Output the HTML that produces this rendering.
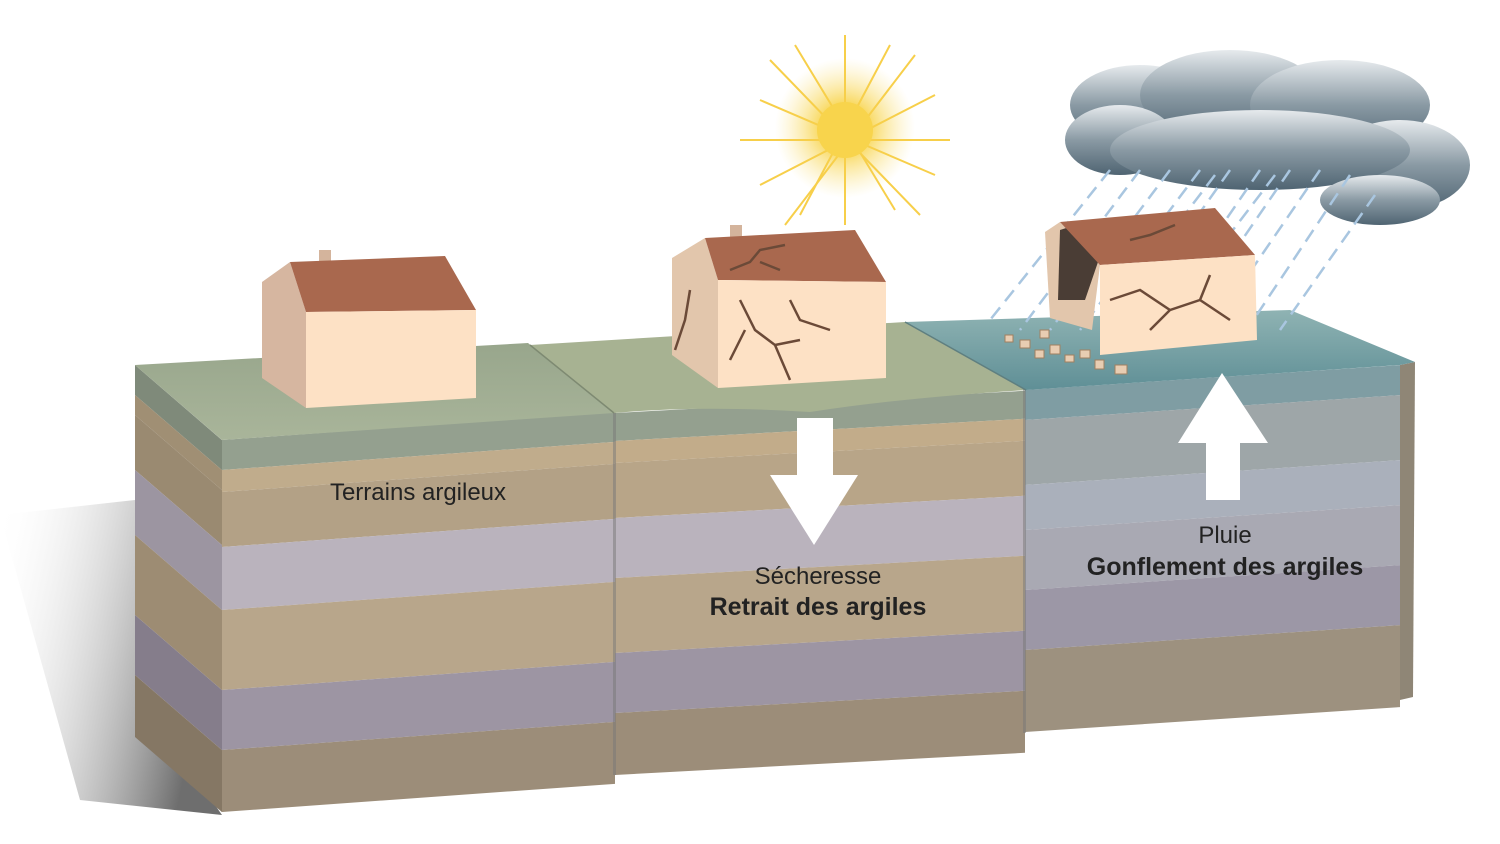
<!DOCTYPE html>
<html><head><meta charset="utf-8"><style>
html,body{margin:0;padding:0;background:#fff;width:1500px;height:844px;overflow:hidden}
svg{display:block}
text{font-family:"Liberation Sans",sans-serif;fill:#222}
</style></head><body>
<svg width="1500" height="844" viewBox="0 0 1500 844" xmlns="http://www.w3.org/2000/svg">
<defs>
<linearGradient id="sh" x1="0" y1="0" x2="1" y2="0.3">
<stop offset="0" stop-color="#fff" stop-opacity="0"/><stop offset="1" stop-color="#555" stop-opacity="0.85"/></linearGradient>
<radialGradient id="sun" cx="0.5" cy="0.5" r="0.5"><stop offset="0.3" stop-color="#f8d44c"/><stop offset="1" stop-color="#fbe9a0" stop-opacity="0"/></radialGradient>
<linearGradient id="cl" x1="0" y1="0" x2="0" y2="1"><stop offset="0" stop-color="#e6eaed"/><stop offset="0.5" stop-color="#8a9aa4"/><stop offset="1" stop-color="#4f6472"/></linearGradient>
<linearGradient id="t3" x1="0" y1="0" x2="0" y2="1"><stop offset="0" stop-color="#8fb3b3"/><stop offset="1" stop-color="#5f8f96"/></linearGradient>
<linearGradient id="t1" x1="0" y1="0" x2="0" y2="1"><stop offset="0" stop-color="#98a68c"/><stop offset="1" stop-color="#a9b59a"/></linearGradient>
</defs>
<!-- shadow -->
<polygon points="0,515 135,500 135,690 222,815 80,800" fill="url(#sh)"/>
<!-- Block 1 side -->
<g transform="translate(135,365) skewY(40.8)">
<rect x="0" y="0" width="87" height="30" fill="#7f8a7a"/><rect x="0" y="30" width="87" height="20" fill="#a08f74"/>
<rect x="0" y="50" width="87" height="55" fill="#9a8a71"/><rect x="0" y="105" width="87" height="65" fill="#9c95a1"/>
<rect x="0" y="170" width="87" height="80" fill="#9d8c73"/><rect x="0" y="250" width="87" height="60" fill="#857d8b"/>
<rect x="0" y="310" width="87" height="62" fill="#857764"/></g>
<!-- Block 1 front -->
<g transform="translate(222,440) skewY(-4.1)">
<rect x="0" y="0" width="393" height="30" fill="#94a08f"/><rect x="0" y="30" width="393" height="22" fill="#c0ac8c"/>
<rect x="0" y="52" width="393" height="55" fill="#b3a186"/><rect x="0" y="107" width="393" height="63" fill="#bab3bd"/>
<rect x="0" y="170" width="393" height="80" fill="#b8a68b"/><rect x="0" y="250" width="393" height="60" fill="#9d95a3"/>
<rect x="0" y="310" width="393" height="62" fill="#9c8d79"/></g>
<polygon points="135,365 528,343 614,413 222,440" fill="url(#t1)"/>
<!-- Block 2 front -->
<g transform="translate(615,413) skewY(-3.1)">
<rect x="0" y="0" width="410" height="28" fill="#94a08f"/><rect x="0" y="28" width="410" height="22" fill="#c2ac8a"/>
<rect x="0" y="50" width="410" height="55" fill="#b8a588"/><rect x="0" y="105" width="410" height="60" fill="#bab3bd"/>
<rect x="0" y="165" width="410" height="75" fill="#b8a68b"/><rect x="0" y="240" width="410" height="60" fill="#9d95a3"/>
<rect x="0" y="300" width="410" height="62" fill="#9c8d79"/></g>
<rect x="613" y="410" width="3" height="365" fill="#777" opacity="0.5"/>
<path d="M530,345 L905,322 L1026,390 Q900,398 810,412 Q700,405 614,413 Z" fill="#a7b292"/>
<line x1="530" y1="345" x2="614" y2="413" stroke="#7e8a72" stroke-width="1.5"/>
<!-- Block 3 front -->
<g transform="translate(1025,390) skewY(-3.8)">
<rect x="0" y="0" width="375" height="30" fill="#7f9da3"/><rect x="0" y="30" width="375" height="65" fill="#9ea6a8"/>
<rect x="0" y="95" width="375" height="45" fill="#aab0bb"/><rect x="0" y="140" width="375" height="60" fill="#a9a9b3"/>
<rect x="0" y="200" width="375" height="60" fill="#9c97a6"/><rect x="0" y="260" width="375" height="82" fill="#9d917f"/></g>
<polygon points="1400,365 1415,362 1413,697 1400,700" fill="#8f8676"/>
<rect x="1023" y="388" width="3" height="345" fill="#777" opacity="0.5"/>
<path d="M905,322 L1290,310 L1415,362 L1400,365 L1026,390 Z" fill="url(#t3)"/>
<line x1="905" y1="322" x2="1026" y2="390" stroke="#5f7f80" stroke-width="1.5"/>
<!-- Sun -->
<circle cx="845" cy="128" r="70" fill="url(#sun)"/>
<g stroke="#f7cf4a" stroke-width="2">
<line x1="845" y1="35" x2="845" y2="225"/><line x1="740" y1="140" x2="950" y2="140"/>
<line x1="770" y1="60" x2="920" y2="215"/><line x1="915" y1="55" x2="785" y2="225"/>
<line x1="795" y1="45" x2="895" y2="210"/><line x1="890" y1="45" x2="800" y2="215"/>
<line x1="760" y1="100" x2="935" y2="175"/><line x1="935" y1="95" x2="760" y2="185"/></g>
<circle cx="845" cy="130" r="28" fill="#f8d44c"/>
<!-- Cloud -->
<g fill="url(#cl)">
<ellipse cx="1140" cy="105" rx="70" ry="40"/><ellipse cx="1230" cy="95" rx="90" ry="45"/>
<ellipse cx="1340" cy="105" rx="90" ry="45"/><ellipse cx="1120" cy="140" rx="55" ry="35"/>
<ellipse cx="1400" cy="165" rx="70" ry="45"/><ellipse cx="1260" cy="150" rx="150" ry="40"/>
<ellipse cx="1380" cy="200" rx="60" ry="25"/></g>
<!-- Rain -->
<g stroke="#a9c6e0" stroke-width="2.5" stroke-dasharray="14,8">
<line x1="1110" y1="170" x2="990" y2="320"/><line x1="1140" y1="170" x2="1020" y2="330"/>
<line x1="1170" y1="170" x2="1050" y2="330"/><line x1="1200" y1="170" x2="1080" y2="330"/>
<line x1="1230" y1="170" x2="1110" y2="340"/><line x1="1260" y1="170" x2="1140" y2="345"/>
<line x1="1290" y1="170" x2="1170" y2="345"/><line x1="1320" y1="170" x2="1200" y2="345"/>
<line x1="1350" y1="175" x2="1240" y2="340"/><line x1="1375" y1="195" x2="1280" y2="330"/>
<line x1="1215" y1="175" x2="1150" y2="260"/><line x1="1275" y1="175" x2="1210" y2="260"/></g>
<!-- House 1 -->
<polygon points="262,282 290,262 306,312 306,408 262,378" fill="#d6b6a0"/>
<rect x="319" y="250" width="12" height="35" fill="#d4b49c"/>
<polygon points="290,262 445,256 476,310 306,312" fill="#a9684e"/>
<polygon points="306,312 476,310 476,398 306,408" fill="#fde1c5"/>
<!-- House 2 -->
<polygon points="672,258 705,238 718,280 718,388 672,355" fill="#e2c6ac"/>
<rect x="730" y="225" width="12" height="35" fill="#d4b49c"/>
<polygon points="705,238 855,230 886,282 718,280" fill="#a9684e"/>
<polygon points="718,280 886,282 886,378 718,388" fill="#fde1c5"/>
<g stroke="#6b4a38" stroke-width="2.5" fill="none">
<path d="M730,270 L750,262 L760,250 L785,245 M760,262 L780,270 M740,300 L755,330 L775,345 L790,380 M775,345 L800,340 M690,290 L685,320 L675,350 M745,330 L730,360 M790,300 L800,320 L830,330"/></g>
<!-- House 3 -->
<polygon points="1045,232 1060,222 1100,265 1092,330 1050,318" fill="#e2c6ac"/>
<polygon points="1060,230 1085,222 1098,262 1085,300 1058,300" fill="#4a3d35"/>
<polygon points="1060,222 1215,208 1255,255 1100,265" fill="#a9684e"/>
<polygon points="1100,265 1255,255 1257,340 1100,355" fill="#fde1c5"/>
<g stroke="#6b4a38" stroke-width="2.5" fill="none">
<path d="M1110,300 L1140,290 L1170,310 L1200,300 L1230,320 M1150,330 L1170,310 M1200,300 L1210,275 M1130,240 L1150,235 L1175,225"/></g>
<g fill="#e8cdb2" stroke="#a08060" stroke-width="1">
<rect x="1020" y="340" width="10" height="8"/><rect x="1035" y="350" width="9" height="8"/><rect x="1050" y="345" width="10" height="9"/>
<rect x="1065" y="355" width="9" height="7"/><rect x="1080" y="350" width="10" height="8"/><rect x="1095" y="360" width="9" height="9"/>
<rect x="1115" y="365" width="12" height="9"/><rect x="1040" y="330" width="9" height="8"/><rect x="1005" y="335" width="8" height="7"/></g>
<!-- Arrows -->
<g fill="#fff">
<rect x="797" y="418" width="36" height="60"/><polygon points="770,475 858,475 814,545"/>
<rect x="1206" y="440" width="34" height="60"/><polygon points="1178,443 1268,443 1222,373"/></g>
<!-- Text -->
<text x="418" y="500" font-size="24" text-anchor="middle">Terrains argileux</text>
<text x="818" y="584" font-size="24" text-anchor="middle">Sécheresse</text>
<text x="818" y="615" font-size="25" font-weight="bold" text-anchor="middle">Retrait des argiles</text>
<text x="1225" y="543" font-size="24" text-anchor="middle">Pluie</text>
<text x="1225" y="575" font-size="25" font-weight="bold" text-anchor="middle">Gonflement des argiles</text>
</svg>
</body></html>
